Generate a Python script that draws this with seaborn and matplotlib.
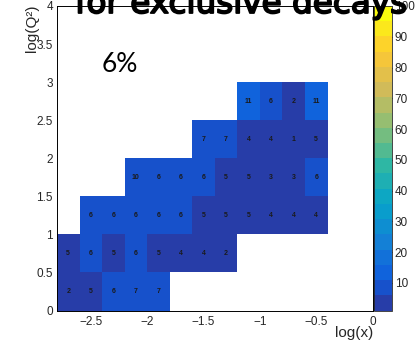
import numpy as np
import pandas as pd
import matplotlib
matplotlib.use("Agg")
import matplotlib.pyplot as plt
import matplotlib.patheffects as pe
from matplotlib.colors import LinearSegmentedColormap, ListedColormap
from matplotlib.ticker import MultipleLocator, FuncFormatter
import seaborn as sns

# one row of log(Q2) bins (width 0.5), log(x) bins of width 0.2
logq2_rows = [0.25, 0.75, 1.25, 1.75, 2.25, 2.75]
logx_first = [-2.8, -2.8, -2.6, -2.2, -1.6, -1.2]   # lower edge of first filled bin
counts = [
    [2, 5, 6, 7, 7],
    [5, 6, 5, 6, 5, 4, 4, 2],
    [6, 6, 6, 6, 6, 5, 5, 5, 4, 4, 4],
    [10, 6, 6, 6, 5, 5, 3, 3, 6],
    [7, 7, 4, 4, 1, 5],
    [11, 6, 2, 11],
]
cbar_ticks = [10, 20, 30, 40, 50, 60, 70, 80, 90, 100]

rows = []
for q, x0, vals in zip(logq2_rows, logx_first, counts):
    for i, n in enumerate(vals):
        rows.append({"logx": round(x0 + 0.1 + 0.2 * i, 2), "logq2": q, "n": n})
df = pd.DataFrame(rows)

# ROOT kBird palette, 20 contour levels
stops = [0.0, 0.125, 0.25, 0.375, 0.5, 0.625, 0.75, 0.875, 1.0]
red = [0.2082, 0.0592, 0.0780, 0.0232, 0.1802, 0.5301, 0.8186, 0.9956, 0.9764]
green = [0.1664, 0.3599, 0.5041, 0.6419, 0.7178, 0.7492, 0.7328, 0.7862, 0.9832]
blue = [0.5293, 0.8684, 0.8385, 0.7914, 0.6425, 0.4662, 0.3499, 0.1968, 0.0539]
bird = LinearSegmentedColormap.from_list("bird", list(zip(stops, zip(red, green, blue))), N=255)
nlev = 20
cmap = ListedColormap([bird(int((i + 0.99) * 255 / nlev) / 254) for i in range(nlev)])

sns.set_style("white")
plt.rcParams["font.family"] = ["Liberation Sans", "DejaVu Sans"]

W, H = 415, 348
fig = plt.figure(figsize=(W / 100, H / 100), dpi=100)
ax = fig.add_axes([57 / W, 1 - 310.5 / H, (372.6 - 57) / W, (310.5 - 6) / H])
cax = fig.add_axes([374 / W, 1 - 310.5 / H, 18 / W, (310.5 - 6) / H])

sns.histplot(data=df, x="logx", y="logq2", weights="n",
             binwidth=(0.2, 0.5), binrange=((-2.8, 0), (0, 4)),
             cmap=cmap, vmin=1, vmax=100, cbar=True, cbar_ax=cax, ax=ax)

for _, r in df.iterrows():
    ax.text(r["logx"], r["logq2"], str(int(r["n"])), ha="center", va="center",
            fontsize=5, fontweight="bold", color="#1a1a1a")

ax.set_xlim(-2.8, 0)
ax.set_ylim(0, 4)
ax.set_xlabel("")
ax.set_ylabel("")

def fmt(v, p):
    s = f"{v:g}"
    if s == "-0":
        s = "0"
    return s.replace("-", "\u2212")

ax.xaxis.set_major_locator(MultipleLocator(0.5))
ax.xaxis.set_minor_locator(MultipleLocator(0.1))
ax.yaxis.set_major_locator(MultipleLocator(0.5))
ax.yaxis.set_minor_locator(MultipleLocator(0.1))
ax.xaxis.set_major_formatter(FuncFormatter(fmt))
ax.yaxis.set_major_formatter(FuncFormatter(fmt))
ax.tick_params(which="major", direction="in", length=6, width=0.7, labelsize=8.5,
               top=False, right=False, pad=3)
ax.tick_params(which="minor", direction="in", length=3, width=0.7,
               top=False, right=False)
ax.tick_params(axis="x", which="major", pad=4)
for s in ax.spines.values():
    s.set_color("black")
    s.set_linewidth(0.7)
    s.set_visible(True)

cax.set_ylim(1, 100)
cax.yaxis.set_ticks(cbar_ticks)
cax.yaxis.set_ticks_position("right")
cax.tick_params(direction="in", length=6, width=0.7, labelsize=8.5, pad=2)
cax.yaxis.set_major_formatter(FuncFormatter(fmt))
for s in cax.spines.values():
    s.set_linewidth(0.6)

fig.text(373 / W, 1 - 333 / H, "log(x)", ha="right", va="center", fontsize=11)
fig.text(32 / W, 1 - 4 / H, "log(Q²)", ha="center", va="top", rotation=90, fontsize=11)

fig.text(75 / W, 1 - 13 / H, "for exclusive decays", ha="left", va="baseline",
         fontsize=23.5, family="DejaVu Sans", color="black",
         path_effects=[pe.withStroke(linewidth=1.3, foreground="black")])
fig.text(102 / W, 1 - 72 / H, "6%", ha="left", va="baseline", fontsize=19,
         family="Lato", color="black")

fig.savefig("out.png", dpi=100)
